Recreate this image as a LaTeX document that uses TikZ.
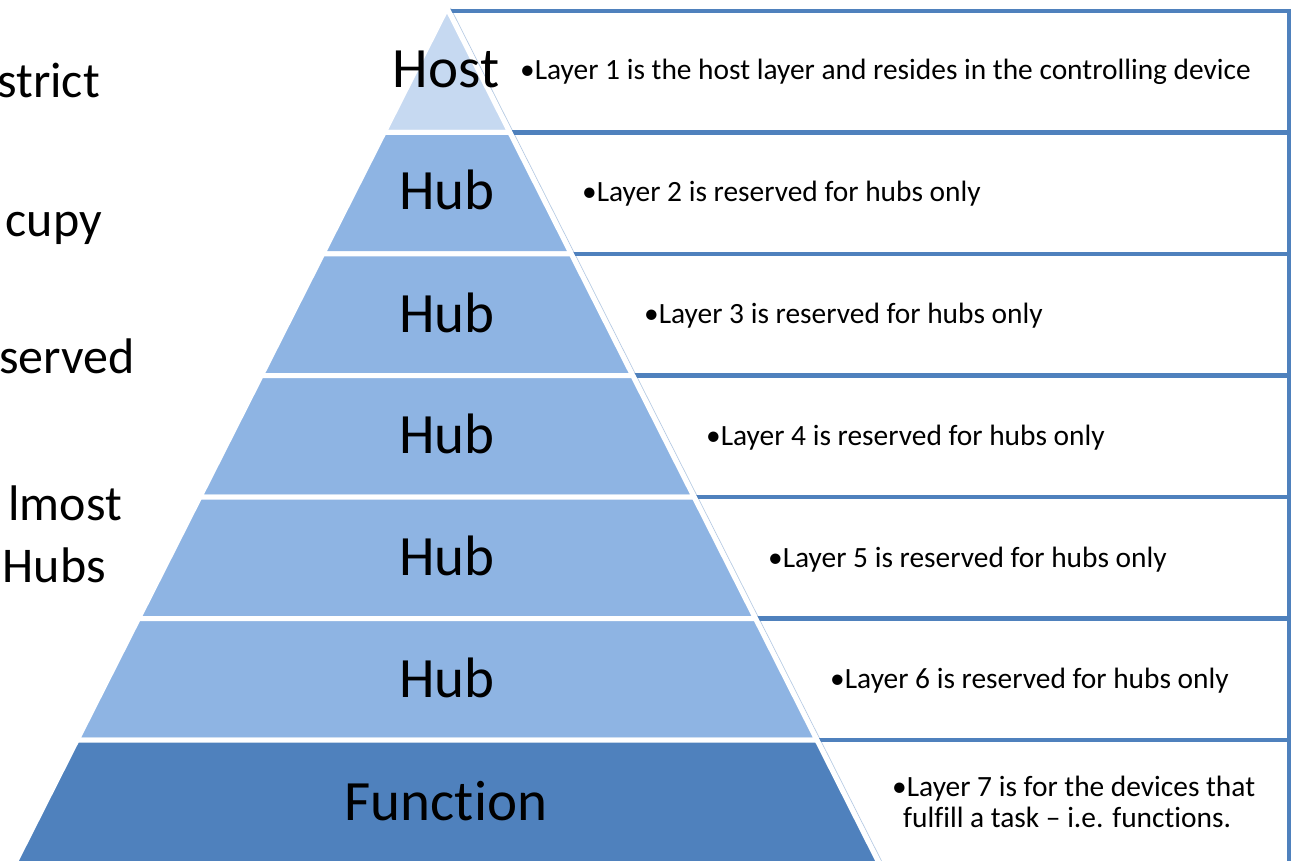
\documentclass[tikz,border=0pt]{standalone}
\usepackage{fontspec}
\setmainfont{Carlito}[Ligatures=NoCommon]
\definecolor{accent}{HTML}{4F81BD}
\definecolor{hostfill}{HTML}{C6D9F1}
\definecolor{hubfill}{HTML}{8EB4E3}
\definecolor{edgeline}{HTML}{B9CDE5}
\begin{document}
\begin{tikzpicture}[x=1pt,y=-1pt,
 rowbox/.style={draw=accent, line width=4.5pt},
 layer/.style={draw=white, line width=5pt, line join=miter},
 biglabel/.style={anchor=base, inner sep=0pt, font=\fontsize{57}{68}\selectfont},
 note/.style={anchor=base west, inner sep=0pt, font=\fontsize{29.4}{31}\selectfont},
 side/.style={anchor=base east, inner sep=0pt, font=\fontsize{50}{60}\selectfont}]
\useasboundingbox (0,0) rectangle (1294,861);
\clip (0,0) rectangle (1294,861);
\fill[white] (0,0) rectangle (1294,861);
% thin edge line beside the pyramid
\draw[edgeline, line width=0.8pt] (450.5,8) -- (901.2,900);
% right-hand rows
\draw[rowbox] (447,11) rectangle (1289,132.5);
\draw[rowbox] (447,132.5) rectangle (1289,254);
\draw[rowbox] (447,254) rectangle (1289,375.5);
\draw[rowbox] (447,375.5) rectangle (1289,497);
\draw[rowbox] (447,497) rectangle (1289,618.5);
\draw[rowbox] (447,618.5) rectangle (1289,740);
\draw[rowbox] (447,740) rectangle (1289,875);
% pyramid layers
\filldraw[layer, fill=hostfill] (447,8) -- (509.9,132.5) -- (384.1,132.5) -- cycle;
\filldraw[layer, fill=hubfill] (384.1,132.5) -- (509.9,132.5) -- (571.3,254) -- (322.7,254) -- cycle;
\filldraw[layer, fill=hubfill] (322.7,254) -- (571.3,254) -- (632.7,375.5) -- (261.3,375.5) -- cycle;
\filldraw[layer, fill=hubfill] (261.3,375.5) -- (632.7,375.5) -- (694.1,497) -- (199.9,497) -- cycle;
\filldraw[layer, fill=hubfill] (199.9,497) -- (694.1,497) -- (755.5,618.5) -- (138.5,618.5) -- cycle;
\filldraw[layer, fill=hubfill] (138.5,618.5) -- (755.5,618.5) -- (816.9,740) -- (77.1,740) -- cycle;
\filldraw[layer, fill=accent] (77.1,740) -- (816.9,740) -- (897.7,900) -- (-3.7,900) -- cycle;
% pyramid labels
\node[biglabel] (l1) at (446,88) {Host};
\node[biglabel] (l2) at (447,210) {Hub};
\node[biglabel] (l3) at (447,332) {Hub};
\node[biglabel] (l4) at (447,453) {Hub};
\node[biglabel] (l5) at (447,575) {Hub};
\node[biglabel] (l6) at (447,697) {Hub};
\node[biglabel] (l7) at (446,820) {Function};
% row texts
\node[note] (t1) at (520,80) {•Layer 1 is the host layer and resides in the controlling device};
\node[note] (t2) at (582,202) {•Layer 2 is reserved for hubs only};
\node[note] (t3) at (644,323.5) {•Layer 3 is reserved for hubs only};
\node[note] (t4) at (706,445) {•Layer 4 is reserved for hubs only};
\node[note] (t5) at (768,567) {•Layer 5 is reserved for hubs only};
\node[note] (t6) at (830,688) {•Layer 6 is reserved for hubs only};
\node[note] (t7) at (892,796) {•Layer 7 is for the devices that};
\node[note] (t7b) at (903,827) {fulfill a task – i.e. functions.};
% clipped side texts
\node[side] (s1) at (100,98) {strict};
\node[side] (s2) at (102,237) {cupy};
\node[side] (s3) at (135,373) {served};
\node[side] (s4) at (122,520) {lmost};
\node[side] (s5) at (106,582) {Hubs};
\end{tikzpicture}
\end{document}
